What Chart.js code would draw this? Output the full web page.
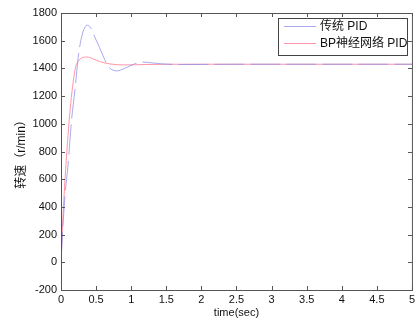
<!DOCTYPE html>
<html>
<head>
<meta charset="utf-8">
<script src="https://cdn.jsdelivr.net/npm/chart.js@4"></script>
<style>
  body { margin: 0; background: #fff; }
  #wrap { width: 418px; height: 320px; }
</style>
</head>
<body>
<div id="wrap"><canvas id="speedChart" width="418" height="320"></canvas></div>
<script>
// time axis (sec) and speed (r/min)
const pidTimes   = [0, 0.03, 0.06, 0.1, 0.15, 0.2, 0.25, 0.3, 0.35, 0.38, 0.42, 0.47, 0.5, 0.55, 0.6, 0.65, 0.7, 0.75, 0.8, 0.85, 0.95, 1.05, 1.17, 1.3, 1.45, 1.7, 2.5, 5];
const pidSpeed   = [0, 280, 500, 700, 1025, 1250, 1500, 1640, 1705, 1712, 1695, 1640, 1605, 1550, 1490, 1435, 1400, 1386, 1382, 1388, 1410, 1433, 1445, 1440, 1432, 1428, 1430, 1430];
const bpTimes    = [0, 0.03, 0.07, 0.13, 0.2, 0.25, 0.3, 0.37, 0.45, 0.55, 0.7, 0.9, 1.2, 1.5, 5];
const bpSpeed    = [0, 350, 700, 1100, 1390, 1455, 1476, 1482, 1470, 1450, 1432, 1425, 1428, 1430, 1430];
const xTicks     = [0, 0.5, 1, 1.5, 2, 2.5, 3, 3.5, 4, 4.5, 5];
const yTicks     = [-200, 0, 200, 400, 600, 800, 1000, 1200, 1400, 1600, 1800];
const seriesNames = ['传统 PID', 'BP神经网络 PID'];

const toPoints = (xs, ys) => xs.map((x, i) => ({ x: x, y: ys[i] }));

const FONT = '"Liberation Sans", Arial, "Noto Sans CJK SC", sans-serif';

// matlab-ish frame with inward ticks on all four sides
const framePlugin = {
  id: 'frame',
  afterDraw(chart) {
    const { ctx, chartArea: a, scales } = chart;
    ctx.save();
    ctx.strokeStyle = '#555';
    ctx.lineWidth = 1;
    ctx.strokeRect(a.left + 0.5, a.top + 0.5, a.right - a.left, a.bottom - a.top);
    ctx.beginPath();
    xTicks.forEach(v => {
      const px = Math.round(scales.x.getPixelForValue(v)) + 0.5;
      ctx.moveTo(px, a.bottom); ctx.lineTo(px, a.bottom - 4);
      ctx.moveTo(px, a.top); ctx.lineTo(px, a.top + 4);
    });
    yTicks.forEach(v => {
      const py = Math.round(scales.y.getPixelForValue(v)) + 0.5;
      ctx.moveTo(a.left, py); ctx.lineTo(a.left + 4, py);
      ctx.moveTo(a.right, py); ctx.lineTo(a.right - 4, py);
    });
    ctx.stroke();
    ctx.restore();
  }
};

// boxed legend in the top right corner
const legendBoxPlugin = {
  id: 'legendBox',
  afterDraw(chart) {
    const ctx = chart.ctx;
    const box = { x: 278.5, y: 18.5, w: 129, h: 37 };
    ctx.save();
    ctx.fillStyle = '#fff';
    ctx.fillRect(box.x, box.y, box.w, box.h);
    ctx.strokeStyle = '#444';
    ctx.lineWidth = 1;
    ctx.strokeRect(box.x, box.y, box.w, box.h);
    ctx.font = '12px ' + FONT;
    ctx.textBaseline = 'middle';
    chart.data.datasets.forEach((ds, i) => {
      const y = 26.5 + i * 17;
      ctx.strokeStyle = ds.borderColor;
      ctx.beginPath();
      ctx.moveTo(284, y); ctx.lineTo(316, y);
      ctx.stroke();
      ctx.fillStyle = '#111';
      ctx.fillText(ds.label, 320, y);
    });
    ctx.restore();
  }
};

new Chart(document.getElementById('speedChart'), {
  type: 'line',
  data: {
    datasets: [
      {
        label: seriesNames[0],
        data: toPoints(pidTimes, pidSpeed),
        borderColor: 'rgba(140,140,235,0.75)',
        borderWidth: 1,
        borderDash: [30, 6],
        pointRadius: 0,
        cubicInterpolationMode: 'monotone',
        fill: false
      },
      {
        label: seriesNames[1],
        data: toPoints(bpTimes, bpSpeed),
        borderColor: 'rgba(255,130,150,0.85)',
        borderWidth: 1,
        pointRadius: 0,
        cubicInterpolationMode: 'monotone',
        fill: false
      }
    ]
  },
  options: {
    responsive: false,
    animation: false,
    layout: { padding: { top: 13, right: 6, left: 0, bottom: 0 } },
    plugins: { legend: { display: false }, tooltip: { enabled: false } },
    scales: {
      x: {
        type: 'linear',
        min: 0,
        max: 5,
        afterBuildTicks: s => { s.ticks = xTicks.map(v => ({ value: v })); },
        afterFit: s => { s.height = 30; },
        grid: { display: false, drawTicks: false },
        border: { display: false },
        ticks: {
          color: '#111',
          font: { size: 11, family: FONT },
          padding: 3,
          maxRotation: 0,
          callback: v => String(v)
        },
        title: {
          display: true,
          text: 'time(sec)',
          color: '#111',
          font: { size: 11, family: FONT },
          padding: { top: -1, bottom: 0 }
        }
      },
      y: {
        min: -200,
        max: 1800,
        afterBuildTicks: s => { s.ticks = yTicks.map(v => ({ value: v })); },
        afterFit: s => { s.width = 61; },
        grid: { display: false, drawTicks: false },
        border: { display: false },
        ticks: {
          color: '#111',
          font: { size: 11, family: FONT },
          padding: 4,
          callback: v => String(v)
        },
        title: {
          display: true,
          text: '转速（r/min）',
          color: '#111',
          font: { size: 12, family: FONT },
          padding: { top: 14, bottom: 0 }
        }
      }
    }
  },
  plugins: [framePlugin, legendBoxPlugin]
});
</script>
</body>
</html>
